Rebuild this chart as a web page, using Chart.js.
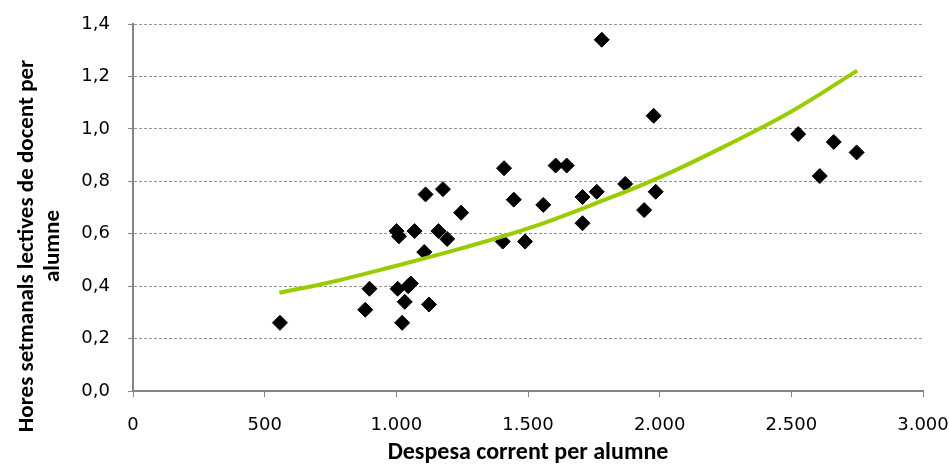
<!DOCTYPE html>
<html>
<head>
<meta charset="utf-8">
<script src="https://cdn.jsdelivr.net/npm/chart.js@4.4.1/dist/chart.umd.min.js"></script>
<style>
  body { margin: 0; background: #fff; }
</style>
</head>
<body>
<canvas id="chart" width="949" height="468"></canvas>
<script>
// despesa corrent per alumne (x) i hores setmanals lectives de docent per alumne (y)
const spending = [558, 882, 898, 1005, 1022, 1032, 1045, 1055, 1124, 1001, 1010, 1069, 1106, 1111,
    1177, 1160, 1193, 1246, 1409, 1446, 1404, 1489, 1558, 1780, 1977, 1605, 1647, 1707, 1761,
    1869, 1985, 1941, 1707, 2526, 2661, 2748, 2608];
const hours = [0.26, 0.31, 0.39, 0.39, 0.26, 0.34, 0.40, 0.41, 0.33, 0.61, 0.59, 0.61, 0.53, 0.75,
    0.77, 0.61, 0.58, 0.68, 0.85, 0.73, 0.57, 0.57, 0.71, 1.34, 1.05, 0.86, 0.86, 0.74, 0.76,
    0.79, 0.76, 0.69, 0.64, 0.98, 0.95, 0.91, 0.82];

// línia de tendència (llegida del gràfic)
const trendX = [556, 750, 1000, 1250, 1500, 1750, 2000, 2250, 2500, 2750];
const trendY = [0.375, 0.415, 0.478, 0.545, 0.62, 0.713, 0.815, 0.935, 1.066, 1.222];

const xTickLabels = ['0', '500', '1.000', '1.500', '2.000', '2.500', '3.000'];
const yTickLabels = ['0,0', '0,2', '0,4', '0,6', '0,8', '1,0', '1,2', '1,4'];
const yTitle = ['Hores setmanals lectives de docent per', 'alumne'];

Chart.defaults.font.family = 'Carlito, Lato, sans-serif';
Chart.defaults.color = '#000';

// el títol de l'eix Y no està centrat sobre l'àrea del gràfic, el dibuixem a part
const yTitlePlugin = {
    id: 'yTitle',
    afterDraw(chart) {
        const c = chart.ctx;
        c.save();
        c.translate(27, 246);
        c.rotate(-Math.PI / 2);
        c.textAlign = 'center';
        c.textBaseline = 'middle';
        c.fillStyle = '#000';
        c.font = 'bold 23px Carlito, Lato, sans-serif';
        yTitle.forEach((line, i) => c.fillText(line, 0, i * 26));
        c.restore();
    }
};

const ctx = document.getElementById('chart').getContext('2d');
new Chart(ctx, {
    type: 'scatter',
    data: {
        datasets: [{
            type: 'line',
            data: trendX.map((x, i) => ({ x: x, y: trendY[i] })),
            borderColor: '#99cc00',
            borderWidth: 4,
            pointRadius: 0,
            tension: 0.4,
            fill: false,
            order: 0
        }, {
            data: spending.map((x, i) => ({ x: x, y: hours[i] })),
            pointStyle: 'rectRot',
            pointRadius: 7.5,
            backgroundColor: '#000',
            borderColor: '#000',
            borderWidth: 1,
            order: 1
        }]
    },
    options: {
        responsive: false,
        animation: false,
        layout: { padding: 0 },
        plugins: {
            legend: { display: false },
            tooltip: { enabled: false }
        },
        scales: {
            x: {
                type: 'linear',
                min: 0,
                max: 3000,
                afterFit: (scale) => {
                    scale.height = 77;
                    scale.paddingLeft = 0;
                    scale.paddingRight = 26;
                },
                ticks: {
                    stepSize: 500,
                    padding: 18,
                    maxRotation: 0,
                    font: { family: 'DejaVu Sans', size: 18 },
                    callback: (value, index) => xTickLabels[index]
                },
                grid: {
                    drawOnChartArea: false,
                    drawTicks: true,
                    tickLength: 6,
                    tickColor: '#868686'
                },
                border: { color: '#868686', width: 2 },
                title: {
                    display: true,
                    text: 'Despesa corrent per alumne',
                    font: { size: 24, weight: 'bold' },
                    padding: { top: 0, bottom: 1 }
                }
            },
            y: {
                min: 0,
                max: 1.4,
                afterFit: (scale) => {
                    scale.width = 133;
                    scale.paddingTop = 24;
                    scale.paddingBottom = 0;
                },
                ticks: {
                    stepSize: 0.2,
                    padding: 18,
                    font: { family: 'DejaVu Sans', size: 18 },
                    callback: (value, index) => yTickLabels[index]
                },
                grid: {
                    color: '#969696',
                    drawTicks: true,
                    tickLength: 5,
                    tickColor: '#868686',
                    tickBorderDash: []
                },
                border: { color: '#868686', width: 2, dash: [3, 2] },
                title: { display: false }
            }
        }
    },
    plugins: [yTitlePlugin]
});
</script>
</body>
</html>
